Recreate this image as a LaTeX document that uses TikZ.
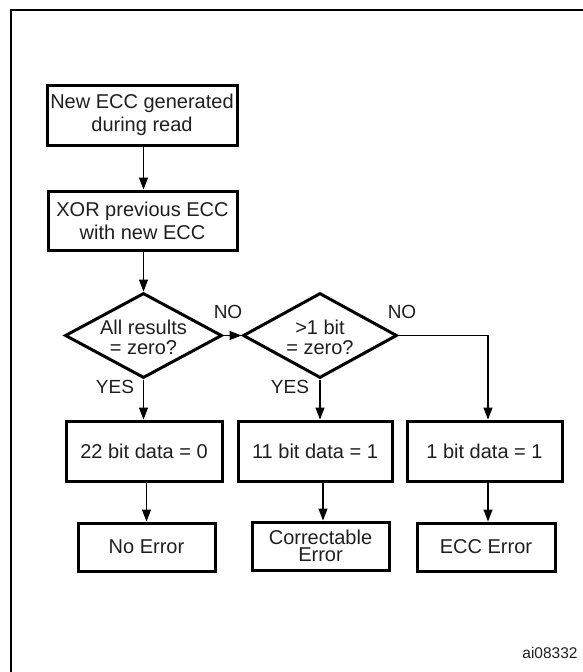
\documentclass[tikz,border=0pt]{standalone}
\usepackage{fontspec}
\setmainfont{Liberation Sans}
\usetikzlibrary{shapes.geometric,arrows.meta}
\begin{document}
\begin{tikzpicture}[x=1pt,y=-1pt,
  box/.style={draw, line width=3pt, inner sep=0pt, align=center, font=\fontsize{20}{23}\selectfont, text=black!88},
  dia/.style={draw, diamond, line width=3pt, inner sep=0pt},
  dtxt/.style={align=center, inner sep=0pt, font=\fontsize{20}{20}\selectfont, text=black!88},
  conn/.style={line width=1.2pt, -{Triangle[length=12pt,width=9pt]}},
  lbl/.style={font=\fontsize{19}{22}\selectfont, inner sep=0pt, text=black!88},
  frame/.style={line width=2pt}]
\useasboundingbox (0,0) rectangle (583,672);
\draw[frame] (11,680) -- (11,10) -- (590,10);

\node[box, minimum width=190pt, minimum height=60pt] (b1) at (142,115) {New ECC generated\\during read};
\node[box, minimum width=189pt, minimum height=59pt] (b2) at (142.5,220.5) {XOR previous ECC\\with new ECC};

\node[dia, minimum width=157pt, minimum height=85pt] (d1) at (143.5,335.5) {};
\node[dtxt] (t1) at (143.5,337) {All results\\= zero?};
\node[dia, minimum width=154pt, minimum height=85pt] (d2) at (320,335.5) {};
\node[dtxt] (t2) at (320,337) {\textgreater 1 bit\\= zero?};

\node[box, minimum width=156pt, minimum height=60pt] (r1) at (144,451) {22 bit data = 0};
\node[box, minimum width=154pt, minimum height=60pt] (r2) at (315,451) {11 bit data = 1};
\node[box, minimum width=155pt, minimum height=60pt] (r3) at (484.5,451) {1 bit data = 1};

\node[box, minimum width=137pt, minimum height=48pt] (e1) at (146.5,547) {No Error};
\node[box, minimum width=137pt, minimum height=48pt, font=\fontsize{20}{16.5}\selectfont] (e2) at (320.5,546) {Correctable\\Error};
\node[box, minimum width=138pt, minimum height=48pt] (e3) at (486,547) {ECC Error};

\node[lbl] (no1) at (228,312) {NO};
\node[lbl] (no2) at (402,312) {NO};
\node[lbl] (yes1) at (115,387) {YES};
\node[lbl] (yes2) at (290,387) {YES};

\node[font=\fontsize{15.5}{18}\selectfont, inner sep=0pt, text=black!88] (id) at (550,653) {ai08332};

\draw[conn] (d1.north |- b1.south) -- (d1.north |- b2.north);
\draw[conn] (d1.north |- b2.south) -- (d1.north);
\draw[conn] (d1.east) -- (d2.west);
\draw[conn] (d1.south) -- (d1.south |- r1.north);
\draw[conn] (d2.south) -- (d2.south |- r2.north);
\draw[conn] (d2.east) -- (d2.east -| 488,0) -- (488,0 |- r3.north);
\draw[conn] (e1.north |- r1.south) -- (e1.north);
\draw[conn] (323,0 |- r2.south) -- (323,0 |- e2.north);
\draw[conn] (488,0 |- r3.south) -- (488,0 |- e3.north);
\end{tikzpicture}
\end{document}
